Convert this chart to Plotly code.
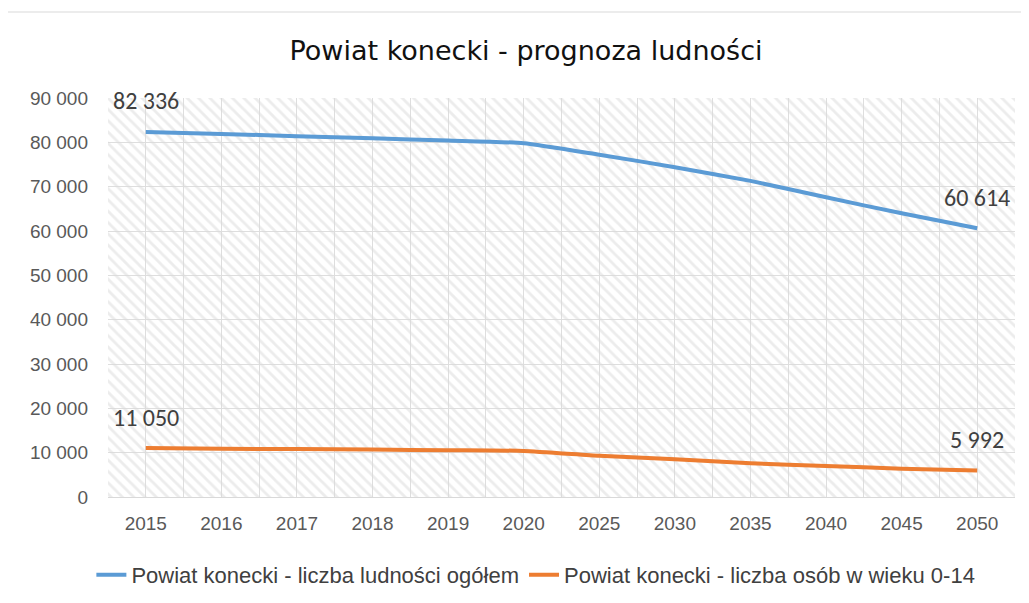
import plotly.graph_objects as go

years = ["2015", "2016", "2017", "2018", "2019", "2020", "2025", "2030", "2035", "2040", "2045", "2050"]
total = [82336, 81900, 81400, 80900, 80400, 79800, 77200, 74400, 71300, 67600, 64000, 60614]
children = [11050, 10900, 10800, 10700, 10550, 10400, 9300, 8500, 7600, 7000, 6400, 5992]
name_total = "Powiat konecki - liczba ludności ogółem"
name_children = "Powiat konecki - liczba osób w wieku 0-14"
title_text = "Powiat konecki - prognoza ludności"
y_ticks = list(range(0, 90001, 10000))
y_max = 90000

xs = list(range(len(years)))

def fmt(v):
    return f"{v:,}".replace(",", " ")

TICK_FONT = "Liberation Sans, Arial, sans-serif"
LABEL_FONT = "Carlito, Liberation Sans, sans-serif"
TITLE_FONT = "DejaVu Sans, sans-serif"

fig = go.Figure()

# hatched plot-area background
fig.add_trace(go.Bar(
    x=xs, y=[y_max] * len(xs), width=1,
    marker=dict(color="rgba(0,0,0,0)", line=dict(width=0),
                pattern=dict(shape="\\", fgcolor="#d9d9d9", bgcolor="rgba(0,0,0,0)",
                             size=8, solidity=0.35)),
    hoverinfo="skip", showlegend=False,
))

fig.add_trace(go.Scatter(
    x=xs, y=total, mode="lines", name=name_total,
    line=dict(color="#5b9bd5", width=4, shape="spline", smoothing=0.5),
))
fig.add_trace(go.Scatter(
    x=xs, y=children, mode="lines", name=name_children,
    line=dict(color="#ed7d31", width=4, shape="spline", smoothing=0.5),
))

for series in (total, children):
    for i in (0, len(series) - 1):
        fig.add_annotation(
            x=xs[i], y=series[i], text=fmt(series[i]), showarrow=False,
            yshift=31, font=dict(family=LABEL_FONT, size=24, color="#404040"),
        )

fig.update_layout(
    width=1029, height=603,
    margin=dict(l=100, r=22, t=90, b=114),
    paper_bgcolor="white", plot_bgcolor="white",
    bargap=0,
    title=dict(text=title_text, x=0.5034, xref="container", y=0.930, yref="container",
               xanchor="center", yanchor="middle",
               font=dict(family=TITLE_FONT, size=27, color="#111111")),
    legend=dict(orientation="h", x=0.513, xref="container", xanchor="center",
                y=0.0597, yref="container", yanchor="middle",
                font=dict(family=TICK_FONT, size=22, color="#404040"),
                itemwidth=30, traceorder="normal"),
    showlegend=True,
)

fig.update_xaxes(
    range=[-0.5, len(years) - 0.5], tickmode="array", tickvals=xs, ticktext=years,
    showgrid=True, gridcolor="#dedede", gridwidth=1,
    minor=dict(tickmode="linear", tick0=-0.5, dtick=1, showgrid=True, gridcolor="#dedede", gridwidth=1),
    showline=True, linecolor="#d9d9d9", linewidth=1, zeroline=False,
    ticks="", tickfont=dict(family=TICK_FONT, size=19, color="#595959"), ticklabelstandoff=9,
    fixedrange=True,
)
fig.update_yaxes(
    range=[0, y_max], tickmode="array", tickvals=y_ticks, ticktext=[fmt(v) for v in y_ticks],
    showgrid=True, gridcolor="#dedede", gridwidth=1, zeroline=False,
    showline=False, ticks="", tickfont=dict(family=TICK_FONT, size=19, color="#595959"),
    ticklabelstandoff=19, fixedrange=True,
)

# chart frame (partly cropped in the original)
fig.add_shape(type="rect", xref="paper", yref="paper",
              x0=-0.2, x1=1.1, y0=-0.5, y1=1 + 86 / 399,
              line=dict(color="#d9d9d9", width=1), fillcolor="rgba(0,0,0,0)", layer="below")

fig.write_html("out.html")
